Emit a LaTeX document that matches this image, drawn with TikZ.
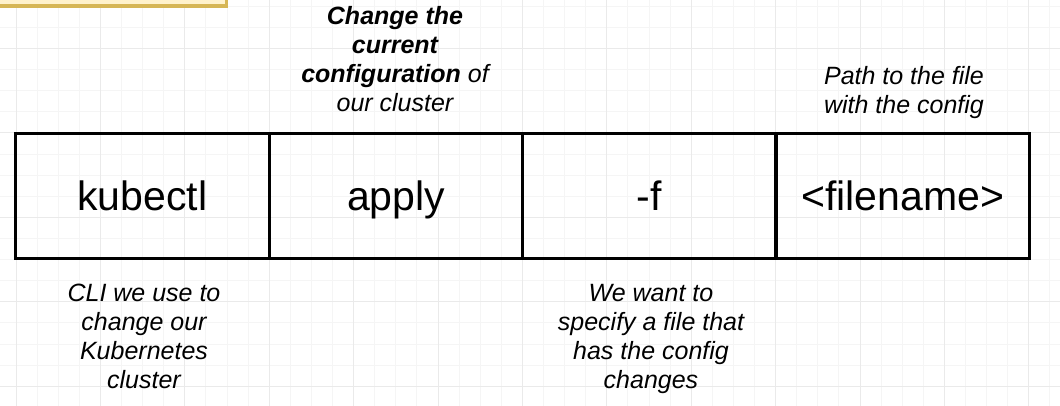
\documentclass[tikz,border=0pt]{standalone}
\usepackage{fontspec}
\setmainfont{Liberation Sans}
\definecolor{gridminor}{HTML}{F5F5F5}
\definecolor{gridmajor}{HTML}{EAEAEA}
\definecolor{notefill}{HTML}{FFF2CC}
\definecolor{notedraw}{HTML}{D6B656}
\begin{document}
\begin{tikzpicture}[x=1pt,y=-1pt,
  minorline/.style={draw=gridminor,line width=1pt},
  majorline/.style={draw=gridmajor,line width=1pt},
  cell/.style={draw=black,line width=3.2pt,minimum width=253.5pt,minimum height=125pt,
    inner sep=0pt,text height=30pt,text depth=0pt,font=\fontsize{41}{49}\selectfont},
  note/.style={align=center,anchor=base,inner sep=0pt,font=\itshape\fontsize{25}{29}\selectfont}]
\useasboundingbox (0,0) rectangle (1060,406);
\fill[white] (0,0) rectangle (1060,406);
\begin{scope}
\clip (0,0) rectangle (1060,406);
\foreach \k in {-1,...,50} {
  \draw[minorline] ({16+21.1*\k},0) -- ({16+21.1*\k},406);
}
\foreach \k in {-3,...,18} {
  \draw[minorline] (0,{48.6+21.1*\k}) -- (1060,{48.6+21.1*\k});
}
\foreach \k in {0,...,12} {
  \draw[majorline] ({16+84.4*\k},0) -- ({16+84.4*\k},406);
}
\foreach \k in {-1,...,5} {
  \draw[majorline] (0,{48.6+84.4*\k}) -- (1060,{48.6+84.4*\k});
}
\draw[draw=notedraw,fill=notefill,line width=3.5pt] (-10,-10) rectangle (226.5,6);
\end{scope}

\node[cell] (kubectl) at (142.4,196) {kubectl};
\node[cell] (apply) at (396.05,196) {apply};
\node[cell] (flag) at (649.4,196) {-f};
\node[cell] (file) at (902.75,196) {<filename>};

\node[note] (applynote) at (395,112) {\textbf{Change the}\\\textbf{current}\\\textbf{configuration} of\\our cluster};
\node[note] (filenote) at (904,113.5) {Path to the file\\with the config};
\node[note] (kubectlnote) at (144,388) {CLI we use to\\change our\\Kubernetes\\cluster};
\node[note] (flagnote) at (651,388) {We want to\\specify a file that\\has the config\\changes};
\end{tikzpicture}
\end{document}
